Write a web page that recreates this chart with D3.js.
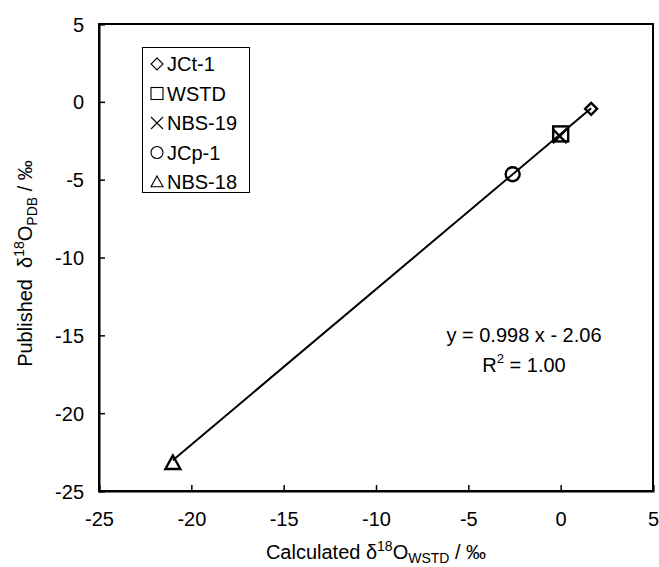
<!DOCTYPE html>
<html><head><meta charset="utf-8">
<script src="https://cdn.jsdelivr.net/npm/d3@7"></script>
<style>
body{margin:0;background:#fff;}
svg text{font-family:"Liberation Sans",Arial,Helvetica,sans-serif;fill:#000;}
</style></head>
<body><svg id="c" width="659" height="567"></svg>
<script>
const samples = ["JCt-1","WSTD","NBS-19","JCp-1","NBS-18"];
const symbols = ["diamond","square","cross","circle","triangle"];
const calcX = [1.65, 0.0, -0.05, -2.6, -21.0];
const publishedY = [-0.45, -2.06, -2.2, -4.65, -23.2];
const xTicks = [-25,-20,-15,-10,-5,0,5];
const yTicks = [5,0,-5,-10,-15,-20,-25];
const slope = 0.998, intercept = -2.06, r2 = "1.00";

const svg = d3.select("#c");
const L=99, R=653, T=24, B=491;
const x = d3.scaleLinear().domain([-25,5]).range([L,R]);
const y = d3.scaleLinear().domain([-25,5]).range([B,T]);

// frame
svg.append("rect").attr("x",L).attr("y",T).attr("width",R-L).attr("height",B-T)
  .attr("fill","none").attr("stroke","#000").attr("stroke-width",2);

const fmt = d => String(d);
const xa = svg.append("g").attr("transform",`translate(0,${B})`)
  .call(d3.axisBottom(x).tickValues(xTicks).tickSize(-6).tickPadding(21).tickFormat(fmt));
const ya = svg.append("g").attr("transform",`translate(${L},0)`)
  .call(d3.axisLeft(y).tickValues(yTicks).tickSize(-6).tickPadding(15).tickFormat(fmt));
[xa,ya].forEach(a=>{
  a.select(".domain").attr("stroke","#000").attr("stroke-width",2);
  a.selectAll(".tick line").attr("stroke","#000").attr("stroke-width",1.5);
  a.selectAll(".tick text").attr("font-size",20).style("font-family",'"Liberation Sans",Arial,sans-serif');
});
xa.selectAll(".tick text").attr("dy","0.71em");
ya.selectAll(".tick text").attr("dy","0.35em");

// regression line
const x0 = d3.min(calcX), x1 = d3.max(calcX);
svg.append("line").attr("x1",x(x0)).attr("y1",y(slope*x0+intercept))
  .attr("x2",x(x1)).attr("y2",y(slope*x1+intercept))
  .attr("stroke","#000").attr("stroke-width",2);

function drawSym(g, type, s, sw){
  const h=s/2;
  if(type==="diamond") g.append("path").attr("d",`M0,${-h}L${h},0L0,${h}L${-h},0Z`);
  else if(type==="square") g.append("rect").attr("x",-h).attr("y",-h).attr("width",s).attr("height",s);
  else if(type==="cross") g.append("path").attr("d",`M${-h},${-h}L${h},${h}M${-h},${h}L${h},${-h}`);
  else if(type==="circle") g.append("circle").attr("r",h);
  else if(type==="triangle") g.append("path").attr("d",`M0,${-h}L${h},${h*0.8}L${-h},${h*0.8}Z`);
  g.selectAll("*").attr("fill","none").attr("stroke","#000").attr("stroke-width",sw);
}
const sizes = {diamond:12,square:15,cross:14,circle:14,triangle:15};
samples.forEach((s,i)=>{
  const g = svg.append("g").attr("transform",`translate(${x(calcX[i])},${y(publishedY[i])})`);
  drawSym(g, symbols[i], sizes[symbols[i]], 2.4);
});

// legend
const lg = svg.append("g");
lg.append("rect").attr("x",142.5).attr("y",47.5).attr("width",107).attr("height",145)
  .attr("fill","#fff").attr("stroke","#000").attr("stroke-width",1);
samples.forEach((s,i)=>{
  const cy = 64 + i*29.5;
  const g = lg.append("g").attr("transform",`translate(157,${cy})`);
  drawSym(g, symbols[i], 12, 1.1);
  lg.append("text").attr("x",167).attr("y",cy).attr("dy","0.35em").attr("font-size",20).text(s);
});

// equation
svg.append("text").attr("x",524).attr("y",342).attr("text-anchor","middle").attr("font-size",20)
  .text(`y = ${slope} x - ${Math.abs(intercept).toFixed(2)}`);
const r = svg.append("text").attr("x",524).attr("y",372).attr("text-anchor","middle").attr("font-size",20);
r.append("tspan").text("R");
r.append("tspan").attr("font-size",13).attr("dy",-9).text("2");
r.append("tspan").attr("dy",9).text(" = "+r2);

// axis titles
const xt = svg.append("text").attr("x",376).attr("y",559).attr("text-anchor","middle").attr("font-size",20);
xt.append("tspan").text("Calculated δ");
xt.append("tspan").attr("font-size",14).attr("dy",-8).text("18");
xt.append("tspan").attr("dy",8).text("O");
xt.append("tspan").attr("font-size",14).attr("dy",4).text("WSTD");
xt.append("tspan").attr("dy",-4).text(" / ‰");

const yt = svg.append("text").attr("transform",`translate(32,${(T+B)/2 + 6}) rotate(-90)`).attr("text-anchor","middle").attr("font-size",20).attr("xml:space","preserve");
yt.append("tspan").text("Published  δ");
yt.append("tspan").attr("font-size",14).attr("dy",-8).text("18");
yt.append("tspan").attr("dy",8).text("O");
yt.append("tspan").attr("font-size",14).attr("dy",5).text("PDB");
yt.append("tspan").attr("dy",-5).text(" / ‰");
</script></body></html>
